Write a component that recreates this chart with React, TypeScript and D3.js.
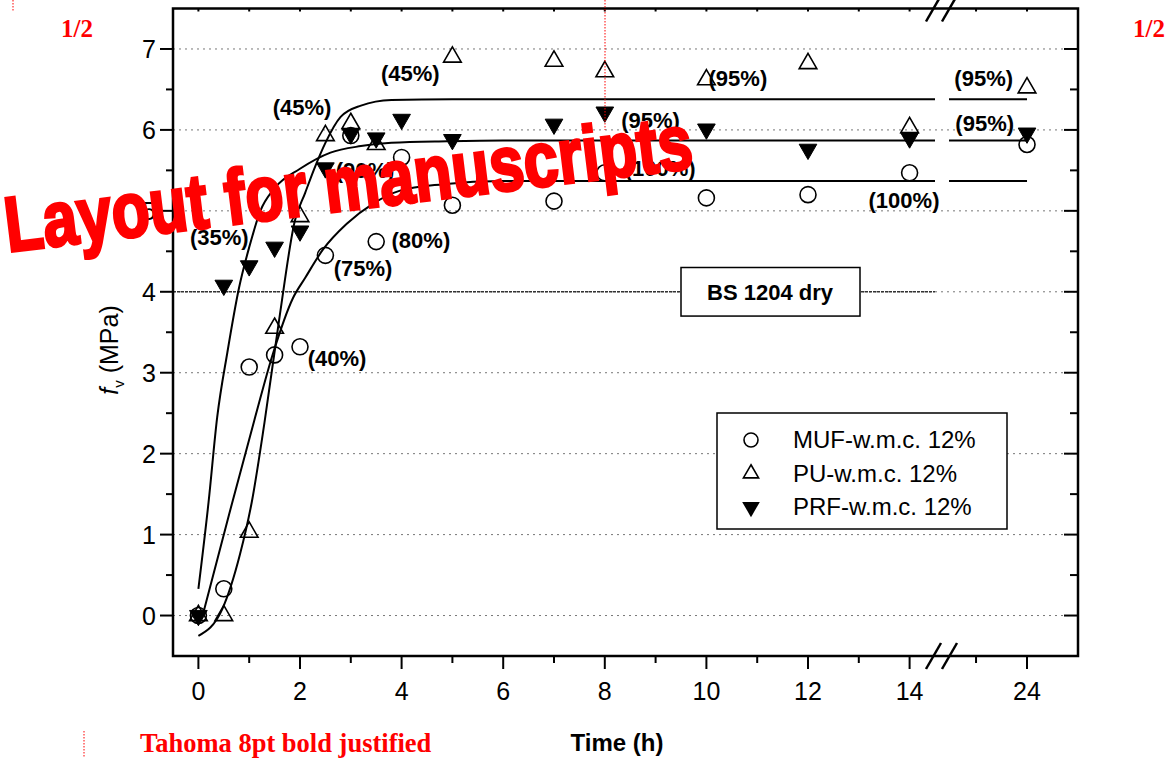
import React from "react";
import * as d3 from "d3";

// measured hours (0..14, then 24 after the axis break)
const hours = [0, 0.5, 1, 1.5, 2, 2.5, 3, 3.5, 4, 5, 7, 8, 10, 12, 14, 24];
const mufValues = [0, 0.33, 3.07, 3.22, 3.32, 4.45, 5.93, 4.62, 5.66, 5.07, 5.12, 5.47, 5.16, 5.2, 5.47, 5.82];
const puValues = [0, 0, 1.03, 3.55, 4.93, 5.93, 6.08, 5.82, null, 6.9, 6.85, 6.72, 6.62, 6.82, 6.03, 6.52];
const prfValues = [0, 4.08, 4.32, 4.55, 4.75, 5.53, 5.95, 5.9, 6.13, 5.88, 6.07, 6.22, 6.01, 5.76, 5.9, 5.96];

// fitted curves
const puFit = [
  [0, -0.25], [0.47, 0.08], [0.82, 0.76], [1.05, 1.4], [1.3, 2.38], [1.6, 3.7], [1.9, 4.88],
  [2.1, 5.22], [2.3, 5.55], [2.5, 5.84], [2.8, 6.16], [3.2, 6.3], [3.8, 6.37], [5, 6.38], [14.5, 6.38],
];
const mufFit = [
  [0.1, 0.04], [0.6, 1.24], [1.1, 2.41], [1.47, 3.24], [1.86, 3.92], [2.1, 4.17], [2.45, 4.52],
  [2.92, 4.84], [3.44, 5.09], [3.97, 5.25], [4.82, 5.33], [6, 5.37], [14.5, 5.37],
];
const prfFit = [
  [0, 0.33], [0.2, 1.4], [0.37, 2.45], [0.57, 3.25], [0.8, 4.05], [1.0, 4.55], [1.22, 5.0],
  [1.5, 5.28], [2.0, 5.52], [2.6, 5.72], [3.2, 5.8], [3.8, 5.84], [4.9, 5.86], [6, 5.87], [14.5, 5.87],
];
const tailHours = [22.47, 24];

const xMajor = [0, 2, 4, 6, 8, 10, 12, 14, 24];
const xMinor = [1, 3, 5, 7, 9, 11, 13, 23];
const xTop = [0, 1, 2, 3, 4, 5, 6, 7, 8, 9, 10, 11, 12, 13, 14, 23, 24];
const yMajor = [0, 1, 2, 3, 4, 5, 6, 7];
const yMinor = [0.5, 1.5, 2.5, 3.5, 4.5, 5.5, 6.5];

const annotations = [
  { text: "(45%)", t: 2.04, v: 6.28 },
  { text: "(45%)", t: 4.17, v: 6.7 },
  { text: "(95%)", t: 10.62, v: 6.64 },
  { text: "(95%)", t: 8.9, v: 6.12 },
  { text: "(90%)", t: 3.28, v: 5.5 },
  { text: "(100%)", t: 9.09, v: 5.53 },
  { text: "(100%)", t: 13.89, v: 5.14 },
  { text: "(35%)", t: 0.41, v: 4.68 },
  { text: "(75%)", t: 3.24, v: 4.29 },
  { text: "(80%)", t: 4.38, v: 4.64 },
  { text: "(40%)", t: 2.73, v: 3.18 },
  { text: "(95%)", t: 23.15, v: 6.64 },
  { text: "(95%)", t: 23.17, v: 6.09 },
];

const legendItems = ["MUF-w.m.c. 12%", "PU-w.m.c. 12%", "PRF-w.m.c. 12%"];

const W = 1167;
const H = 758;
const sans = "'Liberation Sans', Arial, sans-serif";
const serif = "'Liberation Serif', 'Times New Roman', serif";

const x = d3.scaleLinear().domain([-0.5, 14.5, 22.45, 25]).range([173, 935, 948, 1078]);
const y = d3.scaleLinear().domain([-0.5, 7.5]).range([656, 8.5]);

const upTri = d3.symbol(d3.symbolTriangle, 135)()!;

const App = () => {
  const line = d3
    .line<number[]>()
    .x((d) => x(d[0]))
    .y((d) => y(d[1]))
    .curve(d3.curveMonotoneX);

  const fits = [puFit, mufFit, prfFit];
  const left = x.range()[0];
  const right = x.range()[3];
  const top = y.range()[1];
  const bottom = y.range()[0];
  const brk = (x(14.5) + x(22.45)) / 2;

  const pts = (vals: (number | null)[]) =>
    hours.map((h, i) => ({ h, v: vals[i] })).filter((d) => d.v !== null) as { h: number; v: number }[];

  return (
    <svg width={W} height={H} style={{ position: "absolute", left: 0, top: 0, background: "#fff" }}>
      {/* grid */}
      {yMajor.map((v) => (
        <line key={"g" + v} x1={left} x2={right} y1={y(v)} y2={y(v)} stroke="#777" strokeWidth={1} strokeDasharray="2,4" />
      ))}
      <line x1={left} x2={x(14.5)} y1={y(4)} y2={y(4)} stroke="#333" strokeWidth={1.5} strokeDasharray="3,1" />

      {/* fitted curves */}
      {fits.map((f, i) => (
        <g key={"f" + i}>
          <path d={line(f)!} fill="none" stroke="#000" strokeWidth={2} />
          <path
            d={line(tailHours.map((h) => [h, f[f.length - 1][1]]))!}
            fill="none"
            stroke="#000"
            strokeWidth={2}
          />
        </g>
      ))}

      {/* BS 1204 box */}
      <rect x={681} y={y(4.3)} width={179} height={y(3.7) - y(4.3)} fill="#fff" stroke="#000" strokeWidth={1.5} />
      <text x={770} y={y(4) + 8} textAnchor="middle" fontFamily={sans} fontWeight="bold" fontSize={22}>
        BS 1204 dry
      </text>

      {/* markers */}
      {pts(mufValues).map((d, i) => (
        <circle key={"m" + i} cx={x(d.h)} cy={y(d.v)} r={8} fill="none" stroke="#000" strokeWidth={1.6} />
      ))}
      {pts(puValues).map((d, i) => (
        <path key={"p" + i} d={upTri} transform={`translate(${x(d.h)},${y(d.v)})`} fill="none" stroke="#000" strokeWidth={1.6} />
      ))}
      {pts(prfValues).map((d, i) => (
        <path key={"r" + i} d={upTri} transform={`translate(${x(d.h)},${y(d.v)}) rotate(180)`} fill="#000" stroke="#000" strokeWidth={1} />
      ))}

      {/* percentage labels */}
      {annotations.map((a, i) => (
        <text key={"a" + i} x={x(a.t)} y={y(a.v) + 8} textAnchor="middle" fontFamily={sans} fontWeight="bold" fontSize={22}>
          {a.text}
        </text>
      ))}

      {/* legend */}
      <rect x={717} y={413} width={290} height={116} fill="#fff" stroke="#000" strokeWidth={1.5} />
      {legendItems.map((t, i) => {
        const cy = 440 + i * 33.5;
        return (
          <g key={"l" + i}>
            {i === 0 && <circle cx={751} cy={cy} r={7} fill="none" stroke="#000" strokeWidth={1.6} />}
            {i === 1 && (
              <path d={d3.symbol(d3.symbolTriangle, 100)()!} transform={`translate(751,${cy})`} fill="none" stroke="#000" strokeWidth={1.6} />
            )}
            {i === 2 && (
              <path d={upTri} transform={`translate(751,${cy})rotate(180)`} fill="#000" />
            )}
            <text x={793} y={cy + 8} fontFamily={sans} fontSize={24}>
              {t}
            </text>
          </g>
        );
      })}

      {/* frame */}
      <rect x={left} y={top} width={right - left} height={bottom - top} fill="none" stroke="#000" strokeWidth={2.5} />

      {/* left axis */}
      {yMajor.map((v) => (
        <g key={"yl" + v}>
          <line x1={left} x2={left - 13} y1={y(v)} y2={y(v)} stroke="#000" strokeWidth={2} />
          <line x1={right} x2={right - 14} y1={y(v)} y2={y(v)} stroke="#000" strokeWidth={2} />
          <text x={156} y={y(v) + 9} textAnchor="end" fontFamily={sans} fontSize={25}>
            {v}
          </text>
        </g>
      ))}
      {yMinor.map((v) => (
        <g key={"ym" + v}>
          <line x1={left} x2={left - 7} y1={y(v)} y2={y(v)} stroke="#000" strokeWidth={2} />
          <line x1={right} x2={right - 8} y1={y(v)} y2={y(v)} stroke="#000" strokeWidth={2} />
        </g>
      ))}

      {/* bottom axis */}
      {xMajor.map((t) => (
        <g key={"xm" + t}>
          <line x1={x(t)} x2={x(t)} y1={bottom} y2={bottom + 13} stroke="#000" strokeWidth={2} />
          <text x={x(t)} y={700} textAnchor="middle" fontFamily={sans} fontSize={25}>
            {t}
          </text>
        </g>
      ))}
      {xMinor.map((t) => (
        <line key={"xn" + t} x1={x(t)} x2={x(t)} y1={bottom} y2={bottom + 7} stroke="#000" strokeWidth={2} />
      ))}
      {xTop.map((t) => (
        <line key={"xt" + t} x1={x(t)} x2={x(t)} y1={top} y2={top + 3} stroke="#000" strokeWidth={2} />
      ))}

      {/* axis break marks */}
      {[top, bottom].map((yy) =>
        [-8, 8].map((dx) => (
          <line
            key={"b" + yy + dx}
            x1={brk + dx - 7.5}
            y1={yy + 13}
            x2={brk + dx + 7.5}
            y2={yy - 13}
            stroke="#000"
            strokeWidth={2.5}
          />
        ))
      )}

      {/* axis titles */}
      <text x={617} y={751} textAnchor="middle" fontFamily={sans} fontWeight="bold" fontSize={24}>
        Time (h)
      </text>
      <text transform="translate(118,350) rotate(-90)" textAnchor="middle" fontFamily={sans} fontSize={25}>
        <tspan fontStyle="italic">f</tspan>
        <tspan fontSize={15} dy={6}>v</tspan>
        <tspan dy={-6}> (MPa)</tspan>
      </text>

      {/* red layout markings */}
      <line x1={13} x2={13} y1={0} y2={11} stroke="red" strokeWidth={1} strokeDasharray="1.5,1.5" />
      <line x1={84} x2={84} y1={731} y2={758} stroke="red" strokeWidth={1} strokeDasharray="1.5,1.5" />
      <line x1={605} x2={605} y1={0} y2={130} stroke="red" strokeWidth={1} strokeDasharray="1.5,1.5" />
      <text x={61} y={37} fontFamily={serif} fontWeight="bold" fontSize={25} fill="red">
        1/2
      </text>
      <text x={1133} y={37} fontFamily={serif} fontWeight="bold" fontSize={25} fill="red">
        1/2
      </text>
      <text x={140} y={752} fontFamily={serif} fontWeight="bold" fontSize={26.5} fill="red">
        Tahoma 8pt bold justified
      </text>

      {/* watermark */}
      <text
        transform="translate(8,252) rotate(-7)"
        fontFamily={sans}
        fontWeight="bold"
        fontSize={78}
        fill="red"
        stroke="red"
        strokeWidth={3}
        textLength={692}
        lengthAdjust="spacingAndGlyphs"
      >
        Layout for manuscripts
      </text>
    </svg>
  );
};

export default App;
